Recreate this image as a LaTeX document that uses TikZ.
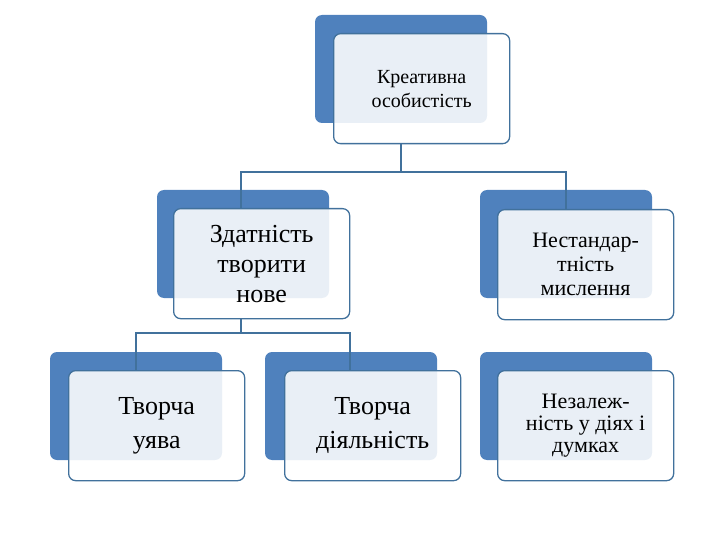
\documentclass[tikz,border=0pt]{standalone}
\usepackage{fontspec}
\setmainfont{Liberation Serif}
\definecolor{bk}{HTML}{4F81BD}
\definecolor{ln}{HTML}{41719C}
\tikzset{
 back/.style={fill=bk,rounded corners=7pt,inner sep=0},
 front/.style={draw=ln,line width=1.3pt,fill=white,fill opacity=0.88,text opacity=1,rounded corners=7pt,align=center,inner sep=0},
 conn/.style={draw=ln,line width=1.3pt}
}
\begin{document}
\begin{tikzpicture}[x=1pt,y=-1pt]
\useasboundingbox (0,0) rectangle (720,540);
\newcommand{\itm}[8]{%
 \path[back] (#2,#3) rectangle (#2+172,#3+108);
 \node[front,minimum width=176pt,minimum height=110pt,anchor=north west,font=\fontsize{#6}{#7}\selectfont] (#1) at (#4,#5) {#8};}
\itm{top}{315}{15}{333}{33}{20}{24}{Креативна\\особистість}
\itm{ml}{157}{190}{173}{208}{26}{30}{Здатність\\творити\\нове}
\itm{mr}{480}{190}{497}{209}{22}{24}{Нестандар-\\тність\\мислення}
\itm{bl}{50}{352}{68}{370}{26}{34}{Творча\\уява}
\itm{bm}{265}{352}{284}{370}{26}{34}{Творча\\діяльність}
\itm{br}{480}{352}{497}{370}{22}{22}{Незалеж-\\ність у діях і\\думках}
\coordinate (j1) at (401,172);
\coordinate (j2) at (241,333);
\draw[conn] (top.south -| j1) -- (j1) -| (ml.north -| 241,0);
\draw[conn] (j1) -| (mr.north -| 566,0);
\draw[conn] (ml.south -| j2) -- (j2) -| (bl.north -| 136,0);
\draw[conn] (j2) -| (bm.north -| 350,0);
\end{tikzpicture}
\end{document}
